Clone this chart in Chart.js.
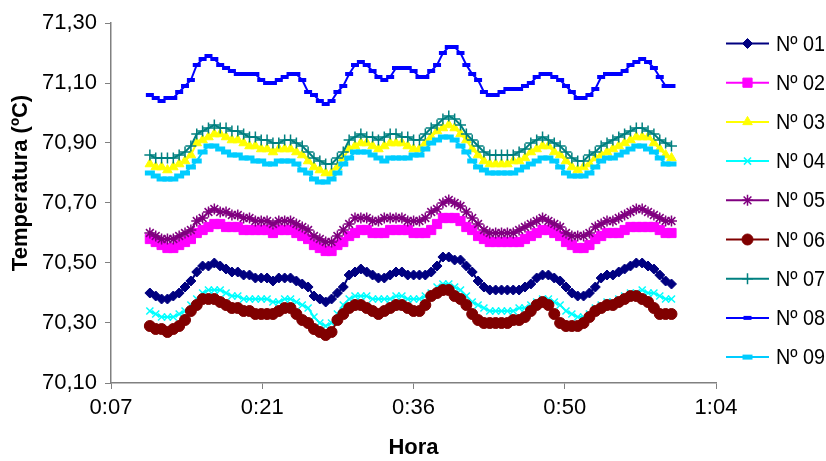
<!DOCTYPE html>
<html>
<head>
<meta charset="utf-8">
<script src="https://cdn.jsdelivr.net/npm/chart.js@4/dist/chart.umd.min.js"></script>
<style>
  body { margin: 0; background: #fff; }
</style>
</head>
<body>
<canvas id="tempChart" width="826" height="461"></canvas>
<script>
// readings every ~33 s, first one at about 0:10:54
const startMin = 10.9;
const stepMin = 0.558;

const seriesNames = ['Nº 01', 'Nº 02', 'Nº 03', 'Nº 04', 'Nº 05', 'Nº 06', 'Nº 07', 'Nº 08', 'Nº 09'];

const s01 = [70.40,70.39,70.38,70.38,70.39,70.40,70.42,70.44,70.47,70.49,
  70.49,70.50,70.49,70.48,70.47,70.47,70.46,70.46,70.45,70.45,
  70.45,70.44,70.45,70.45,70.45,70.44,70.43,70.42,70.39,70.38,
  70.37,70.38,70.40,70.42,70.46,70.47,70.48,70.47,70.46,70.45,
  70.45,70.46,70.47,70.47,70.46,70.46,70.46,70.46,70.47,70.49,
  70.52,70.52,70.51,70.51,70.49,70.47,70.44,70.42,70.41,70.41,
  70.41,70.41,70.41,70.41,70.42,70.43,70.45,70.46,70.46,70.45,
  70.44,70.42,70.40,70.39,70.39,70.40,70.42,70.45,70.46,70.46,
  70.47,70.48,70.49,70.50,70.50,70.49,70.48,70.46,70.44,70.43];

const s02 = [70.58,70.57,70.56,70.55,70.55,70.56,70.57,70.58,70.60,70.61,
  70.62,70.63,70.63,70.62,70.62,70.62,70.61,70.61,70.61,70.61,
  70.61,70.60,70.61,70.61,70.61,70.60,70.59,70.58,70.56,70.55,
  70.54,70.54,70.56,70.57,70.59,70.60,70.61,70.61,70.60,70.60,
  70.60,70.61,70.61,70.61,70.61,70.60,70.60,70.60,70.61,70.63,
  70.65,70.65,70.65,70.64,70.62,70.61,70.59,70.58,70.57,70.57,
  70.57,70.57,70.57,70.57,70.58,70.59,70.60,70.61,70.61,70.60,
  70.59,70.57,70.56,70.55,70.55,70.56,70.58,70.59,70.60,70.60,
  70.60,70.61,70.62,70.62,70.62,70.62,70.62,70.61,70.60,70.60];

const s03 = [70.83,70.82,70.82,70.81,70.82,70.83,70.84,70.86,70.90,70.91,
  70.92,70.93,70.93,70.92,70.91,70.91,70.90,70.89,70.89,70.88,
  70.88,70.87,70.88,70.88,70.88,70.87,70.86,70.84,70.82,70.81,
  70.80,70.80,70.82,70.85,70.88,70.89,70.90,70.90,70.89,70.88,
  70.89,70.90,70.90,70.90,70.89,70.88,70.88,70.90,70.92,70.94,
  70.95,70.96,70.95,70.93,70.91,70.88,70.86,70.84,70.83,70.83,
  70.83,70.83,70.84,70.84,70.85,70.87,70.88,70.89,70.89,70.87,
  70.86,70.84,70.82,70.81,70.82,70.83,70.85,70.86,70.87,70.88,
  70.89,70.90,70.91,70.92,70.92,70.92,70.90,70.88,70.86,70.85];

const s04 = [70.34,70.33,70.32,70.32,70.32,70.33,70.34,70.36,70.38,70.40,
  70.41,70.41,70.41,70.40,70.39,70.39,70.38,70.38,70.38,70.38,
  70.38,70.37,70.37,70.38,70.38,70.37,70.36,70.35,70.32,70.30,
  70.29,70.30,70.33,70.36,70.38,70.39,70.39,70.39,70.38,70.38,
  70.38,70.38,70.39,70.39,70.38,70.38,70.38,70.39,70.40,70.42,
  70.43,70.43,70.42,70.41,70.39,70.37,70.36,70.35,70.34,70.34,
  70.34,70.34,70.34,70.35,70.35,70.36,70.37,70.38,70.38,70.37,
  70.36,70.34,70.33,70.32,70.32,70.33,70.35,70.36,70.37,70.37,
  70.38,70.39,70.40,70.40,70.41,70.40,70.40,70.39,70.38,70.38];

const s05 = [70.60,70.59,70.58,70.58,70.58,70.59,70.60,70.61,70.64,70.65,
  70.67,70.68,70.67,70.67,70.66,70.66,70.65,70.65,70.64,70.64,
  70.64,70.63,70.64,70.64,70.64,70.63,70.62,70.61,70.59,70.58,
  70.57,70.57,70.59,70.61,70.63,70.65,70.65,70.65,70.64,70.64,
  70.65,70.65,70.65,70.65,70.64,70.64,70.64,70.65,70.67,70.68,
  70.70,70.71,70.70,70.69,70.67,70.65,70.63,70.61,70.60,70.60,
  70.60,70.60,70.60,70.61,70.62,70.63,70.64,70.65,70.64,70.63,
  70.62,70.60,70.59,70.59,70.59,70.60,70.62,70.63,70.64,70.64,
  70.65,70.66,70.67,70.68,70.68,70.67,70.66,70.65,70.64,70.64];

const s06 = [70.29,70.28,70.28,70.27,70.28,70.29,70.31,70.34,70.36,70.38,
  70.38,70.38,70.37,70.36,70.35,70.35,70.34,70.34,70.33,70.33,
  70.33,70.33,70.34,70.35,70.35,70.33,70.31,70.30,70.28,70.27,
  70.26,70.27,70.31,70.33,70.35,70.36,70.36,70.35,70.34,70.33,
  70.34,70.35,70.36,70.36,70.35,70.34,70.34,70.36,70.39,70.40,
  70.41,70.41,70.39,70.38,70.36,70.33,70.31,70.30,70.30,70.30,
  70.30,70.30,70.31,70.31,70.32,70.34,70.36,70.37,70.36,70.33,
  70.30,70.29,70.29,70.29,70.30,70.32,70.34,70.35,70.36,70.36,
  70.37,70.38,70.39,70.39,70.38,70.37,70.35,70.33,70.33,70.33];

const s07 = [70.86,70.85,70.85,70.85,70.85,70.86,70.87,70.89,70.93,70.94,
  70.95,70.96,70.95,70.95,70.94,70.94,70.93,70.92,70.92,70.91,
  70.91,70.90,70.90,70.91,70.91,70.90,70.89,70.87,70.85,70.84,
  70.83,70.83,70.85,70.87,70.91,70.92,70.93,70.92,70.92,70.91,
  70.92,70.93,70.93,70.92,70.92,70.91,70.91,70.93,70.95,70.96,
  70.98,70.99,70.98,70.96,70.93,70.91,70.89,70.87,70.86,70.86,
  70.86,70.86,70.86,70.87,70.88,70.90,70.91,70.92,70.91,70.90,
  70.89,70.87,70.85,70.84,70.84,70.86,70.87,70.89,70.90,70.91,
  70.92,70.93,70.94,70.95,70.95,70.94,70.93,70.91,70.90,70.89];

const s08 = [71.06,71.05,71.04,71.05,71.05,71.07,71.09,71.11,71.16,71.18,
  71.19,71.18,71.16,71.15,71.14,71.13,71.13,71.13,71.13,71.11,
  71.10,71.10,71.11,71.12,71.13,71.13,71.11,71.07,71.06,71.04,
  71.03,71.04,71.07,71.09,71.13,71.16,71.17,71.16,71.14,71.12,
  71.11,71.12,71.15,71.15,71.15,71.14,71.12,71.12,71.14,71.16,
  71.20,71.22,71.22,71.20,71.16,71.13,71.11,71.07,71.06,71.06,
  71.07,71.08,71.08,71.08,71.09,71.10,71.12,71.13,71.13,71.12,
  71.11,71.09,71.07,71.05,71.05,71.06,71.08,71.12,71.13,71.13,
  71.13,71.14,71.16,71.17,71.18,71.17,71.15,71.12,71.09,71.09];

const s09 = [70.80,70.79,70.78,70.78,70.78,70.79,70.80,70.82,70.84,70.87,
  70.89,70.89,70.88,70.87,70.86,70.86,70.85,70.85,70.84,70.84,
  70.83,70.83,70.84,70.84,70.84,70.83,70.81,70.80,70.78,70.77,
  70.77,70.78,70.80,70.83,70.85,70.87,70.87,70.87,70.86,70.85,
  70.84,70.85,70.85,70.85,70.85,70.86,70.86,70.88,70.90,70.91,
  70.92,70.92,70.91,70.89,70.87,70.84,70.82,70.81,70.80,70.80,
  70.80,70.80,70.80,70.81,70.82,70.83,70.84,70.85,70.85,70.84,
  70.82,70.80,70.79,70.79,70.79,70.80,70.82,70.84,70.85,70.85,
  70.86,70.87,70.88,70.89,70.89,70.88,70.87,70.85,70.83,70.83];

// axis ticks (x in minutes)
const xTicks = [7.2, 21.6, 36, 50.4, 64.8];
const xTickLabels = ['0:07', '0:21', '0:36', '0:50', '1:04'];
const yTicks = [70.1, 70.3, 70.5, 70.7, 70.9, 71.1, 71.3];

const allSeries = [s01, s02, s03, s04, s05, s06, s07, s08, s09];
const times = s01.map((v, i) => startMin + i * stepMin);

const FONT = "'Liberation Sans', Arial, sans-serif";

const looks = [
  { color: '#000080', style: 'rectRot', radius: 5, bw: 1 },
  { color: '#FF00FF', style: 'rect', radius: 6.5, bw: 1 },
  { color: '#FFFF00', style: 'triangle', radius: 5.5, bw: 1 },
  { color: '#00FFFF', style: 'crossRot', radius: 5, bw: 1.5 },
  { color: '#800080', style: 'star', radius: 5.5, bw: 1.5 },
  { color: '#800000', style: 'circle', radius: 5.5, bw: 1 },
  { color: '#008080', style: 'cross', radius: 5.5, bw: 1.5 },
  { color: '#0000FF', style: 'line', radius: 4, bw: 4 },
  { color: '#00CCFF', style: 'line', radius: 5, bw: 5 }
];

const datasets = allSeries.map((vals, i) => ({
  label: seriesNames[i],
  data: vals.map((v, j) => ({ x: times[j], y: v })),
  borderColor: looks[i].color,
  backgroundColor: looks[i].color,
  borderWidth: 2,
  pointStyle: looks[i].style,
  pointRadius: looks[i].radius,
  pointBorderWidth: looks[i].bw,
  pointBorderColor: looks[i].color,
  pointBackgroundColor: looks[i].color,
  tension: 0,
  order: allSeries.length - i
}));

// Excel style legend (line + marker) and the rotated y title
const excelLegend = {
  id: 'excelLegend',
  afterDraw(chart) {
    const ctx = chart.ctx;
    ctx.save();
    datasets.forEach((ds, i) => {
      const y = 43.5 + i * 39.2;
      ctx.strokeStyle = ds.borderColor;
      ctx.lineWidth = 2;
      ctx.beginPath();
      ctx.moveTo(726, y);
      ctx.lineTo(769, y);
      ctx.stroke();
      ctx.fillStyle = ds.borderColor;
      ctx.strokeStyle = ds.borderColor;
      ctx.lineWidth = ds.pointBorderWidth;
      Chart.helpers.drawPoint(ctx, {
        pointStyle: ds.pointStyle,
        radius: ds.pointRadius,
        borderWidth: ds.pointBorderWidth,
        rotation: 0
      }, 747.5, y);
      ctx.save();
      ctx.translate(776, y + 1);
      ctx.scale(0.9, 1);
      ctx.fillStyle = '#000';
      ctx.font = '22px ' + FONT;
      ctx.textAlign = 'left';
      ctx.textBaseline = 'middle';
      ctx.fillText(ds.label, 0, 0);
      ctx.restore();
    });

    ctx.translate(21, 183);
    ctx.rotate(-Math.PI / 2);
    ctx.fillStyle = '#000';
    ctx.font = 'bold 22px ' + FONT;
    ctx.textAlign = 'center';
    ctx.textBaseline = 'middle';
    ctx.fillText('Temperatura (ºC)', 0, 0);
    ctx.restore();
  }
};

const ctx = document.getElementById('tempChart').getContext('2d');

new Chart(ctx, {
  type: 'line',
  data: { datasets: datasets },
  options: {
    responsive: false,
    animation: false,
    layout: { padding: { left: 0, right: 110, top: 23, bottom: 0 } },
    plugins: {
      legend: { display: false },
      tooltip: { enabled: false }
    },
    scales: {
      x: {
        type: 'linear',
        min: 7.2,
        max: 64.8,
        afterBuildTicks: scale => { scale.ticks = xTicks.map(v => ({ value: v })); },
        afterFit: scale => { scale.height = 78; },
        grid: { display: true, drawOnChartArea: false, drawTicks: true, tickLength: 6, color: '#808080' },
        border: { color: '#808080', width: 1.5 },
        ticks: {
          color: '#000',
          font: { family: FONT, size: 22 },
          padding: 6,
          maxRotation: 0,
          callback: function (value) {
            const k = xTicks.indexOf(value);
            return k >= 0 ? xTickLabels[k] : '';
          }
        },
        title: {
          display: true,
          text: 'Hora',
          color: '#000',
          font: { family: FONT, size: 22, weight: 'bold' },
          padding: { top: 15, bottom: 0 }
        }
      },
      y: {
        min: 70.1,
        max: 71.3,
        afterBuildTicks: scale => { scale.ticks = yTicks.map(v => ({ value: v })); },
        afterFit: scale => { scale.width = 111; },
        grid: { display: true, drawOnChartArea: false, drawTicks: true, tickLength: 6, color: '#808080' },
        border: { color: '#808080', width: 1.5 },
        ticks: {
          color: '#000',
          font: { family: FONT, size: 22 },
          padding: 8,
          callback: function (value) {
            return value.toFixed(2).replace('.', ',');
          }
        }
      }
    }
  },
  plugins: [excelLegend]
});
</script>
</body>
</html>
